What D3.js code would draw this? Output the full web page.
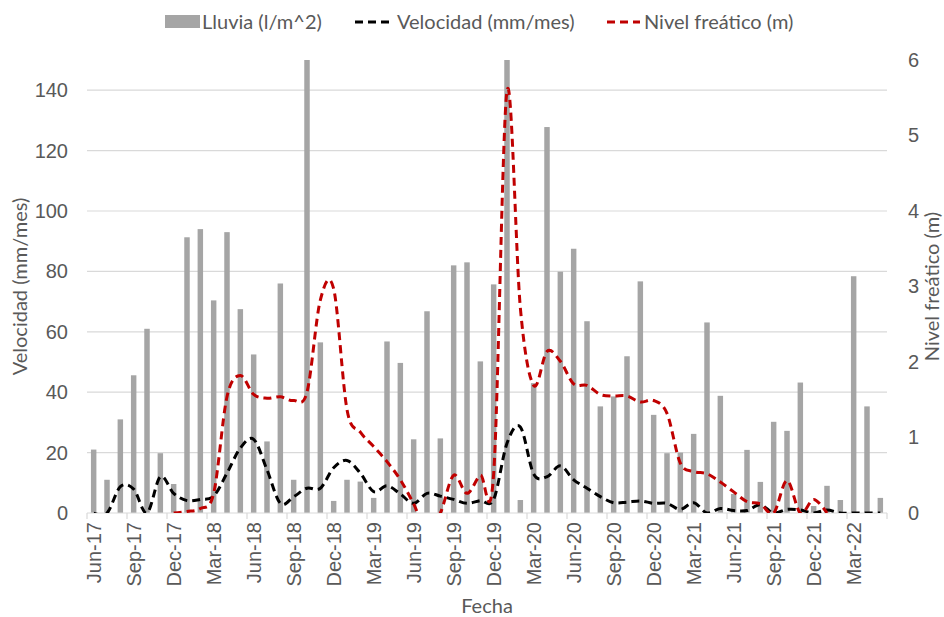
<!DOCTYPE html>
<html>
<head>
<meta charset="utf-8">
<script src="https://cdn.jsdelivr.net/npm/d3@7"></script>
<style>
  body { margin: 0; background: #fff; }
  svg { font-family: Lato, "Open Sans", sans-serif; }
</style>
</head>
<body>
<div id="chart"></div>
<script>
// monthly series, Jun-17 .. May-22
var months = ["Jun-17","Jul-17","Aug-17","Sep-17","Oct-17","Nov-17","Dec-17",
  "Jan-18","Feb-18","Mar-18","Apr-18","May-18","Jun-18","Jul-18","Aug-18","Sep-18","Oct-18","Nov-18","Dec-18",
  "Jan-19","Feb-19","Mar-19","Apr-19","May-19","Jun-19","Jul-19","Aug-19","Sep-19","Oct-19","Nov-19","Dec-19",
  "Jan-20","Feb-20","Mar-20","Apr-20","May-20","Jun-20","Jul-20","Aug-20","Sep-20","Oct-20","Nov-20","Dec-20",
  "Jan-21","Feb-21","Mar-21","Apr-21","May-21","Jun-21","Jul-21","Aug-21","Sep-21","Oct-21","Nov-21","Dec-21",
  "Jan-22","Feb-22","Mar-22","Apr-22","May-22"];

var lluvia = [21,11,31,45.6,61,19.8,9.6,
  91.3,94,70.4,93,67.5,52.5,23.7,76,11,150,56.5,4,
  11,10.4,5,56.8,49.7,24.4,66.8,24.7,82,83,50.2,75.7,
  150,4.3,43,127.8,79.9,87.5,63.5,35.3,38.6,51.9,76.7,32.5,
  19.8,20,26.2,63.1,38.8,6.3,20.9,10.3,30.2,27.2,43.2,2.3,
  9,4.3,78.4,35.3,5];

var velocidad = [0,0,8.7,7.9,0,12,6.5,
  4.1,4.5,5.6,13.2,21.5,24.4,14.3,3.2,5.4,8.2,8.2,15,
  17.4,13.2,7.1,9,6.3,3.2,6.5,5.6,4.5,3.2,4.1,4.5,
  23.1,28.5,12.9,12,15.6,11,8.2,5.4,3.4,3.6,4,3.2,
  3.2,1.2,3.4,0,1.5,0.8,0.8,2.7,0,1.2,1,0,
  1,0,0,0,0];

// null = no reading
var nivel = [null,null,null,null,null,null,0,
  0.02,0.06,0.26,1.54,1.82,1.57,1.52,1.54,1.49,1.6,2.82,2.97,
  1.37,1.07,0.88,0.68,0.44,0.12,-0.25,0,0.5,0.26,0.5,0.52,
  5.59,2.72,1.69,2.14,2.01,1.71,1.69,1.57,1.55,1.55,1.47,1.49,
  1.32,0.66,0.55,0.52,0.41,0.28,0.15,0.12,0,0.43,0,0.18,
  0,null,null,null,null];

var leftTicks = [0,20,40,60,80,100,120,140];
var rightTicks = [0,1,2,3,4,5,6];

var W = 944, H = 617;
var margin = {top: 60, right: 57, bottom: 104, left: 87},
    width = W - margin.left - margin.right,
    height = H - margin.top - margin.bottom;

var textCol = "#595959";
var fs = "20px";

var svg = d3.select("#chart").append("svg")
    .attr("width", W)
    .attr("height", H);

var g = svg.append("g")
    .attr("transform", "translate(" + margin.left + "," + margin.top + ")");

var x = d3.scaleBand().domain(months).range([0, width])
    .paddingInner(0.59).paddingOuter(0.295);
var y = d3.scaleLinear().domain([0, 150]).range([height, 0]);
var y2 = d3.scaleLinear().domain([0, 6]).range([height, 0]);

g.append("clipPath").attr("id", "plot")
  .append("rect").attr("x", -2).attr("y", -2).attr("width", width + 4).attr("height", height + 2);

// gridlines
g.append("g").selectAll("line")
    .data(leftTicks.slice(1))
  .enter().append("line")
    .attr("x1", 0).attr("x2", width)
    .attr("y1", function(d) { return y(d); })
    .attr("y2", function(d) { return y(d); })
    .attr("stroke", "#d9d9d9").attr("stroke-width", 1.2);

// left axis
var yAxis = d3.axisLeft(y).tickValues(leftTicks).tickSize(0).tickPadding(19);
g.append("g").call(yAxis)
    .call(function(s) { s.select(".domain").remove(); })
    .selectAll("text").attr("fill", textCol).style("font-size", fs);

// right axis
var y2Axis = d3.axisRight(y2).tickValues(rightTicks).tickFormat(d3.format("d"))
    .tickSize(0).tickPadding(21);
g.append("g").attr("transform", "translate(" + width + ",0)").call(y2Axis)
    .call(function(s) { s.select(".domain").remove(); })
    .selectAll("text").attr("fill", textCol).style("font-size", fs);

// bars
g.selectAll(".bar")
    .data(lluvia)
  .enter().append("rect")
    .attr("class", "bar")
    .attr("x", function(d, i) { return x(months[i]); })
    .attr("width", x.bandwidth())
    .attr("y", function(d) { return y(Math.min(d, 150)); })
    .attr("height", function(d) { return height - y(Math.min(d, 150)); })
    .attr("fill", "#a5a5a5");

// x axis
g.append("line")
    .attr("x1", 0).attr("x2", width)
    .attr("y1", height).attr("y2", height)
    .attr("stroke", "#d9d9d9").attr("stroke-width", 1.2);

var tickMonths = months.filter(function(d, i) { return i % 3 === 0; });
var bounds = tickMonths.map(function(d) { return x(d) + x.bandwidth() / 2 - x.step() / 2; });
bounds.push(width);
g.append("g").selectAll("line")
    .data(bounds)
  .enter().append("line")
    .attr("x1", function(d) { return d; }).attr("x2", function(d) { return d; })
    .attr("y1", height).attr("y2", height + 6)
    .attr("stroke", "#d9d9d9").attr("stroke-width", 1.2);

var xAxis = d3.axisBottom(x).tickValues(tickMonths).tickSize(0).tickPadding(0);
g.append("g").attr("transform", "translate(0," + height + ")").call(xAxis)
    .call(function(s) { s.select(".domain").remove(); })
  .selectAll("text")
    .attr("fill", textCol).style("font-size", fs)
    .style("text-anchor", "end")
    .attr("x", -9).attr("y", 0)
    .attr("dy", ".35em")
    .attr("transform", "rotate(-90)");

// lines
var cx = function(i) { return x(months[i]) + x.bandwidth() / 2; };

var velLine = d3.line()
    .x(function(d, i) { return cx(i); })
    .y(function(d) { return y(d); })
    .curve(d3.curveCatmullRom.alpha(0));

var nivLine = d3.line()
    .defined(function(d) { return d !== null; })
    .x(function(d, i) { return cx(i); })
    .y(function(d) { return y2(d); })
    .curve(d3.curveCatmullRom.alpha(0));

g.append("path").datum(velocidad)
    .attr("d", velLine)
    .attr("fill", "none").attr("stroke", "#000")
    .attr("stroke-width", 3).attr("stroke-dasharray", "8,5")
    .attr("clip-path", "url(#plot)");

g.append("path").datum(nivel)
    .attr("d", nivLine)
    .attr("fill", "none").attr("stroke", "#c00000")
    .attr("stroke-width", 3).attr("stroke-dasharray", "8,5")
    .attr("clip-path", "url(#plot)");

// axis titles
svg.append("text")
    .attr("transform", "translate(20," + (margin.top + height / 2) + ") rotate(-90)")
    .attr("text-anchor", "middle").attr("dy", ".35em")
    .attr("fill", textCol).style("font-size", fs)
    .text("Velocidad (mm/mes)");

svg.append("text")
    .attr("transform", "translate(932," + (margin.top + height / 2) + ") rotate(-90)")
    .attr("text-anchor", "middle").attr("dy", ".35em")
    .attr("fill", textCol).style("font-size", fs)
    .text("Nivel freático (m)");

svg.append("text")
    .attr("x", margin.left + width / 2).attr("y", 606)
    .attr("text-anchor", "middle").attr("dy", ".35em")
    .attr("fill", textCol).style("font-size", fs)
    .text("Fecha");

// legend
var leg = svg.append("g").attr("transform", "translate(0,22)");
leg.append("rect").attr("x", 165).attr("y", -7).attr("width", 35).attr("height", 13).attr("fill", "#a5a5a5");
leg.append("text").attr("x", 202).attr("dy", ".35em").attr("fill", textCol).style("font-size", fs).text("Lluvia (l/m^2)");
leg.append("line").attr("x1", 355).attr("x2", 392).attr("stroke", "#000")
    .attr("stroke-width", 3).attr("stroke-dasharray", "8,5");
leg.append("text").attr("x", 397).attr("dy", ".35em").attr("fill", textCol).style("font-size", fs).text("Velocidad (mm/mes)");
leg.append("line").attr("x1", 607).attr("x2", 640).attr("stroke", "#c00000")
    .attr("stroke-width", 3).attr("stroke-dasharray", "8,5");
leg.append("text").attr("x", 644).attr("dy", ".35em").attr("fill", textCol).style("font-size", fs).text("Nivel freático (m)");
</script>
</body>
</html>
